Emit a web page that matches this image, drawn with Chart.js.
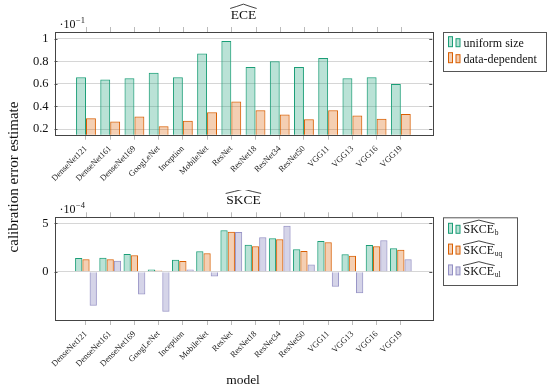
<!DOCTYPE html>
<html><head><meta charset="utf-8">
<script src="https://cdn.jsdelivr.net/npm/chart.js@4/dist/chart.umd.min.js"></script>
<style>
html,body{margin:0;padding:0;background:#fff;}
body{width:547px;height:389px;position:relative;overflow:hidden;font-family:"Liberation Serif",serif;}
canvas{position:absolute;left:0;}
#c1{top:0}
#c2{top:190px}
#ov{top:0;pointer-events:none}
</style></head><body>
<canvas id="c1" width="547" height="190"></canvas>
<canvas id="c2" width="547" height="199"></canvas>
<canvas id="ov" width="547" height="389"></canvas>
<script>
const categories = ['DenseNet121','DenseNet161','DenseNet169','GoogLeNet','Inception','MobileNet','ResNet','ResNet18','ResNet34','ResNet50','VGG11','VGG13','VGG16','VGG19'];
// ECE values, in units of 10^-1
const eceUniform = [0.66,0.64,0.65,0.70,0.66,0.87,0.98,0.75,0.80,0.75,0.83,0.65,0.66,0.60];
const eceDataDep = [0.295,0.268,0.312,0.224,0.274,0.348,0.445,0.366,0.330,0.286,0.366,0.321,0.291,0.333];
// SKCE values, in units of 10^-4
const skceB  = [1.42,1.45,1.83,0.24,1.24,2.11,4.28,2.79,3.45,2.31,3.17,1.80,2.76,2.42];
const skceUq = [1.28,1.28,1.70,0.14,1.11,1.90,4.14,2.62,3.35,2.14,3.04,1.66,2.62,2.28];
const skceUl = [-3.52,1.14,-2.34,-4.14,0.24,-0.48,4.11,3.55,4.76,0.76,-1.55,-2.21,3.24,1.28];
const eceTicks = [0.2,0.4,0.6,0.8,1];
const skceTicks = [0,5];
const yTitle = 'calibration error estimate';
const xTitle = 'model';

const FONT = '"Liberation Serif", serif';
const GREEN = '#1b9e77', GREEN_F = 'rgba(27,158,119,0.3)';
const ORANGE = '#d95f02', ORANGE_F = 'rgba(217,95,2,0.3)';
const PURPLE = 'rgba(117,112,179,0.75)', PURPLE_F = 'rgba(117,112,179,0.3)';

function hat(ctx, x0, x1, y, h) {
  const xm = (x0 + x1) / 2;
  ctx.save();
  ctx.strokeStyle = '#111';
  ctx.lineWidth = 0.8;
  ctx.beginPath();
  ctx.moveTo(x0, y);
  ctx.quadraticCurveTo((x0 + xm) / 2, y - h * 0.45, xm, y - h);
  ctx.quadraticCurveTo((x1 + xm) / 2, y - h * 0.45, x1, y);
  ctx.stroke();
  ctx.restore();
}

function hatText(ctx, text, x, y, size, align, sub) {
  ctx.save();
  ctx.font = size + 'px ' + FONT;
  ctx.fillStyle = '#111';
  ctx.textBaseline = 'alphabetic';
  const w = ctx.measureText(text).width;
  let x0 = align === 'center' ? x - w / 2 : x;
  ctx.textAlign = 'left';
  ctx.fillText(text, x0, y);
  hat(ctx, x0 - 0.5, x0 + w + 0.5, y - size * 0.78, size * 0.32);
  if (sub) {
    ctx.font = (size * 0.62) + 'px ' + FONT;
    ctx.fillText(sub, x0 + w + 0.5, y + size * 0.18);
  }
  ctx.restore();
}

const deco = {
  id: 'deco',
  afterDraw(chart, args, o) {
    const ctx = chart.ctx;
    const a = chart.chartArea;
    const xs = chart.scales.x, ys = chart.scales.y;
    ctx.save();
    // top tick marks
    ctx.strokeStyle = '#bbb'; ctx.lineWidth = 1;
    categories.forEach((c, i) => {
      const px = Math.round(xs.getPixelForValue(i)) + 0.5;
      ctx.beginPath(); ctx.moveTo(px, a.top - 5); ctx.lineTo(px, a.top); ctx.stroke();
    });
    // y inner ticks
    ctx.strokeStyle = '#555';
    o.yTicks.forEach(v => {
      const py = Math.round(ys.getPixelForValue(v)) + 0.5;
      ctx.beginPath(); ctx.moveTo(a.left, py); ctx.lineTo(a.left + 3, py); ctx.stroke();
      ctx.beginPath(); ctx.moveTo(a.right, py); ctx.lineTo(a.right - 3, py); ctx.stroke();
    });
    // frame
    ctx.strokeStyle = '#444';
    ctx.strokeRect(Math.round(a.left) + 0.5, Math.round(a.top) + 0.5, Math.round(a.right - a.left), Math.round(a.bottom - a.top));
    // title
    hatText(ctx, o.title, (a.left + a.right) / 2, o.titleY, 13.5, 'center');
    // exponent
    ctx.fillStyle = '#111';
    ctx.font = '12px ' + FONT;
    ctx.textAlign = 'left';
    ctx.fillText('\u00B710', a.left + 5, a.top - 4);
    const ew = ctx.measureText('\u00B710').width;
    ctx.font = '8.5px ' + FONT;
    ctx.fillText(o.exp, a.left + 5 + ew + 0.5, a.top - 9);
    // legend
    const L = o.legend;
    ctx.fillStyle = '#fff';
    ctx.strokeStyle = '#555';
    ctx.fillRect(L.x, L.y, L.w, L.h);
    ctx.strokeRect(L.x + 0.5, L.y + 0.5, L.w, L.h);
    L.items.forEach((it, k) => {
      const by = L.firstBase + k * L.step;
      ctx.lineWidth = 1;
      ctx.fillStyle = it.fill; ctx.strokeStyle = it.stroke;
      ctx.fillRect(448.5, by - 10, 4, 10); ctx.strokeRect(448.5, by - 10, 4, 10);
      ctx.fillRect(456, by - 8, 4, 8); ctx.strokeRect(456, by - 8, 4, 8);
      if (it.hat) {
        hatText(ctx, it.text, 463.5, by, 12, 'left', it.sub);
      } else {
        ctx.fillStyle = '#111';
        ctx.font = '12px ' + FONT;
        ctx.textAlign = 'left';
        ctx.fillText(it.text, 463.5, by);
      }
    });
    ctx.restore();
  }
};

function makeChart(id, datasets, yMin, yMax, yTicks, fmt, xAxisH, padTop, decoOpts) {
  return new Chart(document.getElementById(id), {
    type: 'bar',
    data: { datasets },
    options: {
      responsive: false,
      animation: false,
      devicePixelRatio: 1,
      layout: { padding: { left: 0, right: 114.7, top: padTop, bottom: 0 } },
      plugins: { legend: { display: false }, title: { display: false }, tooltip: { enabled: false }, deco: decoOpts },
      scales: {
        x: {
          type: 'linear', min: -1.3, max: 14.3, offset: false,
          afterBuildTicks: s => { s.ticks = categories.map((c, i) => ({ value: i })); },
          ticks: { autoSkip: false, minRotation: 45, maxRotation: 45, padding: 4,
                   callback: v => categories[v] ?? '', font: { family: FONT, size: 8.5 }, color: '#222' },
          grid: { offset: false, drawOnChartArea: false, drawTicks: true, tickLength: 5, color: '#bbb' },
          border: { display: false },
          afterFit: s => { s.height = xAxisH; }
        },
        y: {
          min: yMin, max: yMax,
          afterBuildTicks: s => { s.ticks = yTicks.map(v => ({ value: v })); },
          ticks: { callback: fmt, font: { family: FONT, size: 12.5 }, color: '#111', padding: 6 },
          grid: { color: '#d6d6d6', drawTicks: false, lineWidth: 1 },
          border: { display: false },
          afterFit: s => { s.width = 54.5; }
        }
      }
    },
    plugins: [deco]
  });
}

const pts = arr => arr.map((v, i) => ({ x: i, y: v }));

makeChart('c1', [
  { label: 'uniform size', data: pts(eceUniform), backgroundColor: GREEN_F, borderColor: GREEN, borderWidth: 1, categoryPercentage: 0.82, barPercentage: 1 },
  { label: 'data-dependent', data: pts(eceDataDep), backgroundColor: ORANGE_F, borderColor: ORANGE, borderWidth: 1, categoryPercentage: 0.82, barPercentage: 1 }
], 0.15, 1.06, eceTicks, v => v === 1 ? '1' : v.toFixed(1), 55.3, 32, {
  title: 'ECE', titleY: 19, exp: '\u22121', yTicks: eceTicks,
  legend: { x: 443, y: 32, w: 103, h: 39, firstBase: 46.7, step: 16, items: [
    { text: 'uniform size', fill: GREEN_F, stroke: GREEN },
    { text: 'data-dependent', fill: ORANGE_F, stroke: ORANGE }
  ] }
});

makeChart('c2', [
  { label: 'SKCE_b', data: pts(skceB), backgroundColor: GREEN_F, borderColor: GREEN, borderWidth: 1, categoryPercentage: 0.9, barPercentage: 1 },
  { label: 'SKCE_uq', data: pts(skceUq), backgroundColor: ORANGE_F, borderColor: ORANGE, borderWidth: 1, categoryPercentage: 0.9, barPercentage: 1 },
  { label: 'SKCE_ul', data: pts(skceUl), backgroundColor: PURPLE_F, borderColor: PURPLE, borderWidth: 1, categoryPercentage: 0.9, barPercentage: 1 }
], -4.98, 5.62, skceTicks, v => String(v), 69, 27.3, {
  title: 'SKCE', titleY: 14, exp: '\u22124', yTicks: skceTicks,
  legend: { x: 443, y: 27.3, w: 74, h: 67.7, firstBase: 43.3, step: 20.8, items: [
    { text: 'SKCE', sub: 'b', hat: true, fill: GREEN_F, stroke: GREEN },
    { text: 'SKCE', sub: 'uq', hat: true, fill: ORANGE_F, stroke: ORANGE },
    { text: 'SKCE', sub: 'ul', hat: true, fill: PURPLE_F, stroke: PURPLE }
  ] }
});

// shared axis titles
(function () {
  const ctx = document.getElementById('ov').getContext('2d');
  ctx.fillStyle = '#111';
  ctx.textAlign = 'center';
  ctx.textBaseline = 'middle';
  ctx.font = '15px ' + FONT;
  ctx.save();
  ctx.translate(14, 177);
  ctx.rotate(-Math.PI / 2);
  ctx.fillText(yTitle, 0, 0);
  ctx.restore();
  ctx.font = '13.5px ' + FONT;
  ctx.fillText(xTitle, 243, 380);
})();
</script>
</body></html>
